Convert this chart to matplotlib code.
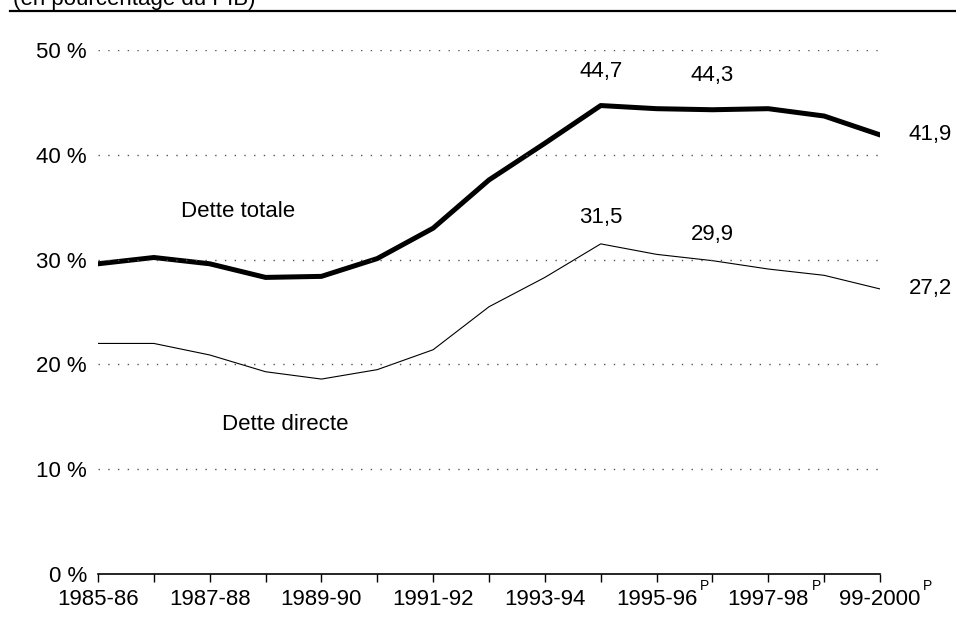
import matplotlib
matplotlib.use("Agg")
import matplotlib.pyplot as plt

plt.rcParams['font.family'] = ['Liberation Sans', 'DejaVu Sans']

years = ["1985-86", "1986-87", "1987-88", "1988-89", "1989-90", "1990-91",
         "1991-92", "1992-93", "1993-94", "1994-95", "1995-96", "1996-97",
         "1997-98", "1998-99", "99-2000"]
tick_labels = ["1985-86", "", "1987-88", "", "1989-90", "", "1991-92", "",
               "1993-94", "", "1995-96", "", "1997-98", "", "99-2000"]
provisional = [10, 12, 14]  # years marked with a superscript P

dette_totale = [29.6, 30.2, 29.6, 28.3, 28.4, 30.1, 33.0, 37.6, 41.1,
                44.7, 44.4, 44.3, 44.4, 43.7, 41.9]
dette_directe = [22.0, 22.0, 20.9, 19.3, 18.6, 19.5, 21.4, 25.5, 28.3,
                 31.5, 30.5, 29.9, 29.1, 28.5, 27.2]

labels_totale = {9: "44,7", 11: "44,3", 14: "41,9"}
labels_directe = {9: "31,5", 11: "29,9", 14: "27,2"}

fs = 16

fig = plt.figure(figsize=(9.56, 6.4), dpi=100)
ax = fig.add_axes([98 / 956, 1 - 574 / 640, (880 - 98) / 956, (574 - 50) / 640])

x = list(range(len(years)))
ax.plot(x, dette_totale, color="black", lw=3.6, solid_joinstyle="round")
ax.plot(x, dette_directe, color="black", lw=0.8)

ax.set_xlim(0, 14)
ax.set_ylim(0, 50)
for s in ["top", "right", "left"]:
    ax.spines[s].set_visible(False)
ax.spines["bottom"].set_linewidth(1.2)

ax.set_yticks([0, 10, 20, 30, 40, 50])
ax.set_yticklabels(["0 %", "10 %", "20 %", "30 %", "40 %", "50 %"], fontsize=fs)
ax.tick_params(axis="y", length=0, pad=8)
ax.set_xticks(x)
ax.set_xticklabels(tick_labels, fontsize=fs)
ax.tick_params(axis="x", direction="out", length=6, width=1, pad=5)

for v in [10, 20, 30, 40, 50]:
    ax.axhline(v, color="#555555", lw=1, ls=(0, (1, 6)))

for i in provisional:
    ax.annotate("P", (i, 0), xytext=(48, -5), textcoords="offset pixels",
                fontsize=10, ha="center", va="top", annotation_clip=False)

for series, labels in [(dette_totale, labels_totale), (dette_directe, labels_directe)]:
    up = 24 if series is dette_totale else 16
    for i, t in labels.items():
        if i == 14:
            ax.annotate(t, (i, series[i]), xytext=(50, 0), textcoords="offset pixels",
                        fontsize=fs, ha="center", va="center", annotation_clip=False)
        else:
            ax.annotate(t, (i, series[i]), xytext=(0, up), textcoords="offset pixels",
                        fontsize=fs, ha="center", va="bottom", annotation_clip=False)

ax.text(2.5, 34.6, "Dette totale", fontsize=fs, ha="center", va="center")
ax.text(3.35, 14.3, "Dette directe", fontsize=fs, ha="center", va="center")

# caption cut off at the top of the scan, with its rule
fig.text(13 / 956, 1 - 5 / 640, "(en pourcentage du PIB)", fontsize=16,
         ha="left", va="baseline")
fig.add_artist(plt.Line2D([10 / 956, 1], [1 - 11 / 640, 1 - 11 / 640],
                          color="black", lw=1.6))

fig.savefig("out.png", dpi=100)
